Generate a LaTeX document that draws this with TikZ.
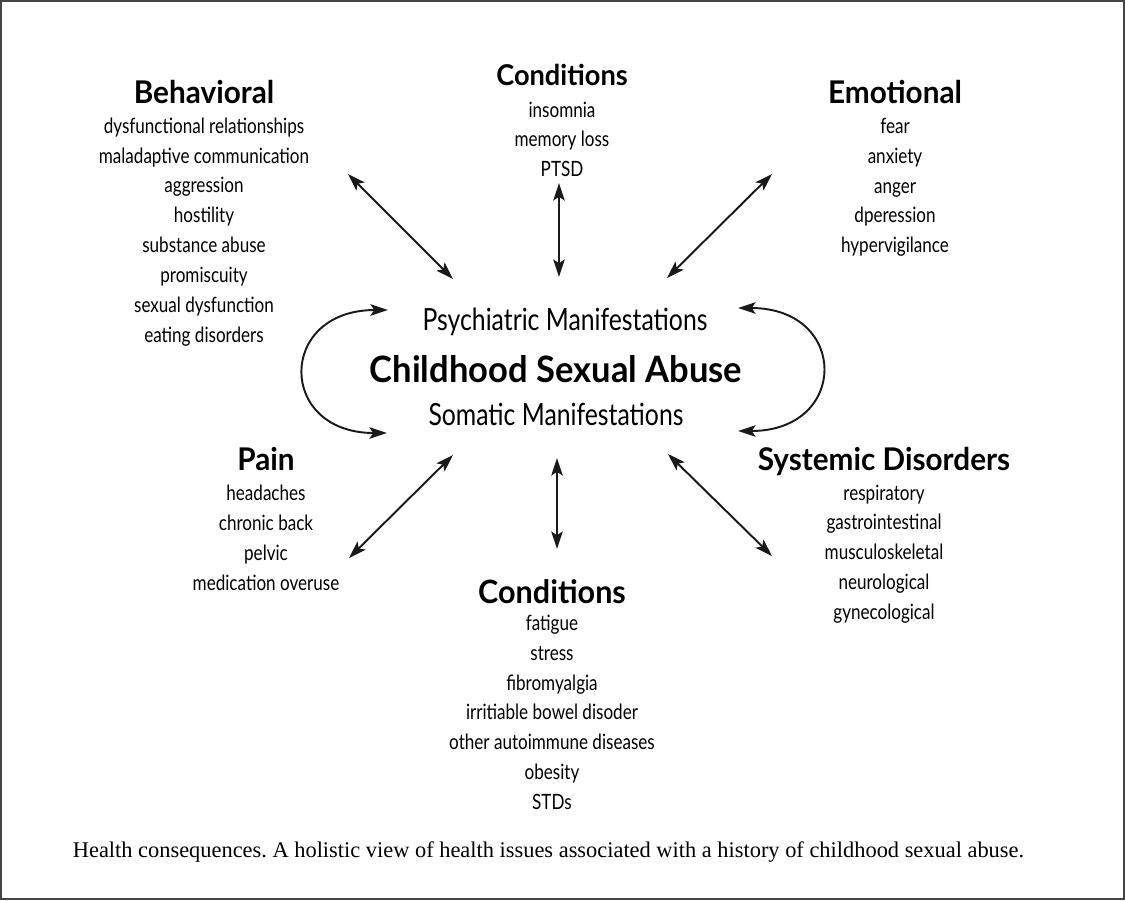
\documentclass[tikz,border=0pt]{standalone}
\usepackage{fontspec}
\newfontfamily\diagfont[FakeStretch=0.81]{Lato}
\newfontfamily\headfont[FakeStretch=0.95]{Lato}
\newfontfamily\captionfont{Liberation Serif}
\usetikzlibrary{arrows.meta,positioning}
\definecolor{framegray}{rgb}{0.27,0.27,0.27}
\definecolor{inkblack}{rgb}{0.1,0.1,0.1}
\frenchspacing
\tikzset{
	>={Stealth[length=10pt,width=6.5pt,inset=2.2pt]},
	heading/.style={
		inner sep=0pt,
		anchor=base,
		font=\headfont\bfseries\fontsize{17.8}{20}\selectfont},
	itemlist/.style={
		inner sep=0pt,
		align=center,
		font=\diagfont\fontsize{12}{17}\selectfont},
	manifest/.style={
		inner sep=0pt,
		anchor=base,
		font=\diagfont\fontsize{17.4}{20}\selectfont},
	line/.style={draw=inkblack, line width=1.1pt, <->},
}

\begin{document}
\begin{tikzpicture}
[x=0.02cm, y=-0.02cm,
node distance=8pt]
\useasboundingbox (0,0) rectangle (1125,900);
\draw[framegray, line width=1.1pt] (1,1) rectangle (1124,899);

% centre
\node[manifest] (psych) at (565,330) {Psychiatric Manifestations};
\node[manifest, font=\headfont\bfseries\fontsize{20.7}{24}\selectfont] (csa) at (556,382) {Childhood Sexual Abuse};
\node[manifest] (soma) at (556,425) {Somatic Manifestations};

% groups
\node[heading] (behav) at (204,103) {Behavioral};
\node[itemlist, below=7.8pt of behav] (behavlist) {dysfunctional relationships\\ maladaptive communication\\ aggression\\ hostility\\ substance abuse\\ promiscuity\\ sexual dysfunction\\ eating disorders};
\node[heading, font=\headfont\bfseries\fontsize{16.3}{20}\selectfont] (condtop) at (562,85) {Conditions};
\node[itemlist, below=9pt of condtop] (condtoplist) {insomnia\\ memory loss\\ PTSD};
\node[heading] (emot) at (895,103) {Emotional};
\node[itemlist, below=of emot] (emotlist) {fear\\ anxiety\\ anger\\ dperession\\ hypervigilance};
\node[heading] (pain) at (266,470) {Pain};
\node[itemlist, below=of pain] (painlist) {headaches\\ chronic back\\ pelvic\\ medication overuse};
\node[heading] (sys) at (884,470) {Systemic Disorders};
\node[itemlist, below=5pt of sys] (syslist) {respiratory\\ gastrointestinal\\ musculoskeletal\\ neurological\\ gynecological};
\node[heading, font=\headfont\bfseries\fontsize{18.3}{22}\selectfont] (condbot) at (552,603) {Conditions};
\node[itemlist, below=6.2pt of condbot] (condbotlist) {fatigue\\ stress\\ fibromyalgia\\ irritiable bowel disoder\\ other autoimmune diseases\\ obesity\\ STDs};

\node[anchor=base, inner sep=0pt, font=\captionfont\fontsize{12.75}{15}\selectfont] (caption) at (548.5,857) {Health consequences. A holistic view of health issues associated with a history of childhood sexual abuse.};

% arrow ends
\coordinate (behav-a) at (348,174);
\coordinate (behav-b) at (453,279);
\coordinate (condtop-a) at (559,183);
\coordinate (condtop-b) at (559,277);
\coordinate (emot-a) at (772,174);
\coordinate (emot-b) at (667,278);
\coordinate (pain-a) at (453,455);
\coordinate (pain-b) at (349,558);
\coordinate (condbot-a) at (557,458);
\coordinate (condbot-b) at (557,549);
\coordinate (sys-a) at (668,454);
\coordinate (sys-b) at (772,556);
\coordinate (left-a) at (388,310);
\coordinate (left-b) at (387,433);
\coordinate (right-a) at (738,308);
\coordinate (right-b) at (738,431);

\draw[line] (behav-a) -- (behav-b);
\draw[line] (condtop-a) -- (condtop-b);
\draw[line] (emot-a) -- (emot-b);
\draw[line] (pain-a) -- (pain-b);
\draw[line] (condbot-a) -- (condbot-b);
\draw[line] (sys-a) -- (sys-b);
\draw[line] (left-a) .. controls (277,310) and (277,433) .. (left-b);
\draw[line] (right-a) .. controls (849,308) and (849,431) .. (right-b);
\end{tikzpicture}
\end{document}
